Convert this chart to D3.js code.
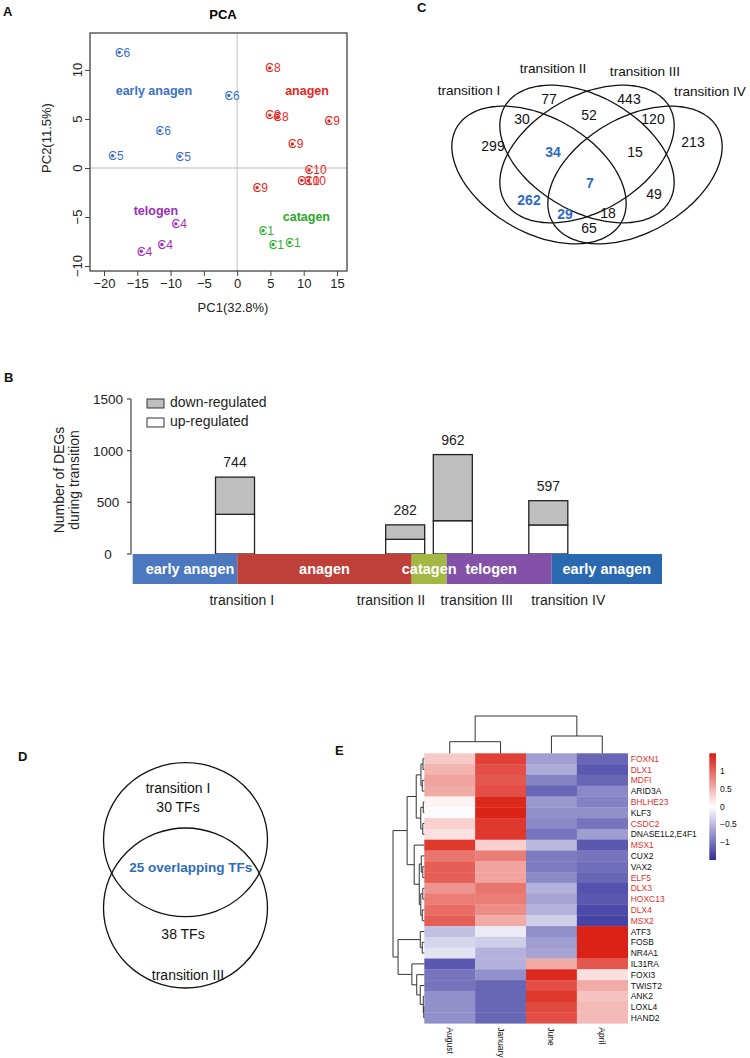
<!DOCTYPE html>
<html><head><meta charset="utf-8">
<script src="https://cdn.jsdelivr.net/npm/d3@7"></script>
<style>body{margin:0;background:#fff}svg{display:block}text{font-family:"Liberation Sans",Arial,sans-serif}</style>
</head><body><svg id="c" width="750" height="1058"></svg>
<script>
// ===================== DATA =====================
// Panel A – PCA
const pcaGroupNames = ["early anagen","anagen","catagen","telogen"];
const pcaSample = ["C6","C6","C6","C5","C5","C8","C8","C8","C9","C9","C10","C10","C10","C9","C1","C1","C1","C4","C4","C4"];
const pcaGroup  = [0,0,0,0,0,1,1,1,1,1,1,1,1,1,2,2,2,3,3,3];
const pcaPC1 = [-17.7,-1.25,-11.6,-18.7,-8.6,4.9,4.9,6.1,13.8,8.3,10.8,9.7,10.7,3.0,3.9,5.4,7.9,-9.2,-11.3,-14.4];
const pcaPC2 = [11.8,7.4,3.8,1.25,1.2,10.2,5.4,5.2,4.8,2.45,-0.2,-1.26,-1.3,-2.0,-6.4,-7.8,-7.6,-5.7,-7.8,-8.5];
const pcaLabelPC1 = [-12.5,10.5,10.4,-12.2];
const pcaLabelPC2 = [7.9,7.9,-4.9,-4.3];
const pcaXTicks = [-20,-15,-10,-5,0,5,10,15];
const pcaYTicks = [-10,-5,0,5,10];

// Panel B – DEG counts
const transitions = ["transition I","transition II","transition III","transition IV"];
const upRegulated   = [384,142,322,281];
const downRegulated = [360,140,640,235];
const totalLabels   = [744,282,962,597];
const transitionTime = [19.33,51.48,60.48,78.52];   // position on the cycle (0-100)
const transitionLabelTime = [20.6,48.8,65.0,82.3];
const stageNames = ["early anagen","anagen","catagen","telogen","early anagen"];
const stageEdges = [0,19.76,52.71,59.32,79.16,100];
const degTicks = [0,500,1000,1500];

// Panel C – 4-set Venn
const vennSetNames = ["transition I","transition II","transition III","transition IV"];
const vennRegions = ["1","2","3","4","12","23","34","123","234","1234","13","24","134","124","14"];
const vennCounts  = [299,77,443,213,30,52,120,34,15,7,262,49,29,18,65];
const vennHighlight = ["123","1234","13","134"];

// Panel D – 2-set Venn
const tfSet1 = "transition I", tfSet2 = "transition III";
const tfOnly1 = 30, tfOnly2 = 38, tfOverlap = 25;

// Panel E – heatmap
const hmCols = ["August","January","June","April"];
const hmRows = ["FOXN1","DLX1","MDFI","ARID3A","BHLHE23","KLF3","CSDC2","DNASE1L2,E4F1","MSX1","CUX2","VAX2","ELF5","DLX3","HOXC13","DLX4","MSX2","ATF3","FOSB","NR4A1","IL31RA","FOXI3","TWIST2","ANK2","LOXL4","HAND2"];
const hmRed = ["FOXN1","DLX1","MDFI","BHLHE23","CSDC2","MSX1","ELF5","DLX3","HOXC13","DLX4","MSX2"];
const hmAugust  = [0.35,0.5,0.6,0.55,0.08,-0.02,0.3,0.2,1.3,0.9,1.05,1.05,0.7,0.85,0.95,1.05,-0.45,-0.3,-0.2,-1.2,-1.0,-1.0,-0.8,-0.8,-0.8];
const hmJanuary = [1.25,1.15,1.1,1.15,1.4,1.45,1.3,1.3,0.3,0.85,0.6,0.6,0.9,0.85,0.75,0.55,-0.15,-0.35,-0.55,-0.55,-0.8,-1.1,-1.1,-1.1,-1.1];
const hmJune    = [-0.7,-0.6,-0.9,-1.1,-0.75,-0.8,-0.85,-1.0,-0.5,-0.95,-0.95,-0.85,-0.55,-0.65,-0.55,-0.35,-0.8,-0.7,-0.65,0.55,1.4,1.15,1.3,1.2,1.15];
const hmApril   = [-1.1,-1.2,-1.1,-0.85,-0.9,-0.8,-1.0,-0.7,-1.2,-1.0,-1.05,-1.1,-1.25,-1.2,-1.3,-1.35,1.45,1.45,1.45,1.1,0.2,0.55,0.4,0.45,0.45];
// dendrograms: [height, left, right], leaves = row/col index
const rowTree = [31,
  [17,
    [8,[3.3,[1.3,0,1],[2,2,3]],[3.5,[1,4,5],[1.5,6,7]]],
    [10,8,[5,[3,9,[1.5,10,11]],[3.5,[1.5,12,13],[2,14,15]]]]],
  [26,
    [4,16,[2,17,18]],
    [12.3,19,[7.5,20,[4,21,[1,22,[0.5,23,24]]]]]]];
const colTree = [37.3,[11.6,0,1],[17.3,2,3]];
const legendTicks = [1,0.5,0,-0.5,-1];

// ===================== DRAW =====================
const svg = d3.select("#c");
svg.append("rect").attr("width",750).attr("height",1058).attr("fill","#fff");
const fmt = d => d<0 ? "\u2212"+Math.abs(d) : String(d);
function letter(t,x,y){svg.append("text").attr("x",x).attr("y",y).attr("font-size",13).attr("font-weight","bold").attr("fill","#111").text(t);}
letter("A",3,16); letter("B",4,382); letter("C",417,12); letter("D",18,761); letter("E",335,755);

// ---------- Panel A ----------
(function(){
  const g = svg.append("g");
  const col = ["#3b70c6","#e8261c","#30b030","#a02cc0"];
  const labCol = ["#3b70c6","#e8261c","#2aa82a","#9b2db8"];
  const xA = d3.scaleLinear().domain([-20,15]).range([104,337]);
  const yA = d3.scaleLinear().domain([-10,10]).range([266,70]);
  const L=90,R=347,T=33,B=271;
  g.append("line").attr("x1",xA(0)).attr("x2",xA(0)).attr("y1",T).attr("y2",B).attr("stroke","#c4c4c4").attr("stroke-width",1);
  g.append("line").attr("x1",L).attr("x2",R).attr("y1",yA(0)).attr("y2",yA(0)).attr("stroke","#d0d0d0").attr("stroke-width",1.5);
  g.append("rect").attr("x",L).attr("y",T).attr("width",R-L).attr("height",B-T).attr("fill","none").attr("stroke","#444").attr("stroke-width",1.3);
  g.append("g").attr("transform",`translate(0,${B})`)
    .call(d3.axisBottom(xA).tickValues(pcaXTicks).tickSize(5).tickPadding(3).tickFormat(fmt))
    .call(s=>s.select(".domain").remove())
    .call(s=>s.selectAll("line").attr("stroke","#444"))
    .call(s=>s.selectAll("text").attr("font-size",13).attr("font-family",'"Liberation Sans",Arial,sans-serif').attr("fill","#222"));
  g.append("g").attr("transform",`translate(${L},0)`)
    .call(d3.axisLeft(yA).tickValues(pcaYTicks).tickSize(5).tickFormat(""))
    .call(s=>s.select(".domain").remove())
    .call(s=>s.selectAll("line").attr("stroke","#444"));
  pcaYTicks.forEach(v=>{
    g.append("text").attr("x",82).attr("y",yA(v)).attr("transform",`rotate(-90,82,${yA(v)})`)
      .attr("text-anchor","middle").attr("font-size",13).attr("fill","#222").text(fmt(v));
  });
  g.append("text").attr("x",223).attr("y",19).attr("text-anchor","middle").attr("font-size",13).attr("font-weight","bold").text("PCA");
  g.append("text").attr("x",233).attr("y",312).attr("text-anchor","middle").attr("font-size",13).attr("fill","#222").text("PC1(32.8%)");
  g.append("text").attr("x",51).attr("y",138).attr("transform","rotate(-90,51,138)").attr("text-anchor","middle").attr("font-size",13).attr("fill","#222").text("PC2(11.5%)");
  pcaSample.forEach((s,i)=>{
    const px=xA(pcaPC1[i]), py=yA(pcaPC2[i]), c=col[pcaGroup[i]];
    g.append("circle").attr("cx",px).attr("cy",py).attr("r",1.7).attr("fill",c);
    g.append("text").attr("x",px-4.4).attr("y",py+4.3).attr("font-size",12).attr("fill",c).text(s);
  });
  pcaGroupNames.forEach((n,i)=>{
    g.append("text").attr("x",xA(pcaLabelPC1[i])).attr("y",yA(pcaLabelPC2[i])+4.5).attr("text-anchor","middle")
      .attr("font-size",12.5).attr("font-weight","bold").attr("fill",labCol[i]).text(n);
  });
})();

// ---------- Panel C ----------
(function(){
  const g = svg.append("g");
  function ellipse(cx,cy,A,B,deg){
    const phi=deg*Math.PI/180, pts=d3.range(0,360,3).map(t=>{
      const a=t*Math.PI/180, u=A*Math.cos(a), v=B*Math.sin(a);
      return [cx+u*Math.cos(phi)-v*Math.sin(phi), cy+u*Math.sin(phi)+v*Math.cos(phi)];});
    g.append("path").attr("d",d3.line().curve(d3.curveCardinalClosed)(pts)).attr("fill","none").attr("stroke","#111").attr("stroke-width",1.3);
  }
  const cx0=587, A=95, B=57.5, ang=30;
  ellipse(cx0-48,175,A,B,ang);
  ellipse(cx0,154,A,B,ang);
  ellipse(cx0,154,A,B,-ang);
  ellipse(cx0+48,175,A,B,-ang);
  const setPos = [[469,90],[553,68],[645,71],[710,91]];
  vennSetNames.forEach((n,i)=>g.append("text").attr("x",setPos[i][0]).attr("y",setPos[i][1]).attr("dy","0.35em").attr("text-anchor","middle").attr("font-size",13.6).attr("fill","#111").text(n));
  const regPos = {"1":[493,146],"2":[549,99],"3":[629,99],"4":[693,142],"12":[522,119],"23":[589,115],"34":[653,119],
    "123":[553,152],"234":[635,152],"1234":[590,183],"13":[529,200],"24":[654,194],"134":[565,214],"124":[608,213],"14":[589,228]};
  vennRegions.forEach((r,i)=>{
    const hl = vennHighlight.includes(r);
    g.append("text").attr("x",regPos[r][0]).attr("y",regPos[r][1]).attr("dy","0.36em").attr("text-anchor","middle")
      .attr("font-size",14).attr("font-weight",hl?"bold":"normal").attr("fill",hl?"#2f6cc0":"#111").text(vennCounts[i]);
  });
})();

// ---------- Panel B ----------
(function(){
  const g = svg.append("g");
  const xB = d3.scaleLinear().domain([0,100]).range([132.7,662]);
  const yB = d3.scaleLinear().domain([0,1500]).range([554,399]);
  const stageCol = ["#4b78bf","#bf3f39","#a2b843","#8352a8","#2a68b0"];
  g.append("line").attr("x1",131).attr("x2",131).attr("y1",yB(1500)).attr("y2",yB(0)).attr("stroke","#444").attr("stroke-width",1.2);
  degTicks.forEach(v=>{
    g.append("line").attr("x1",127).attr("x2",131).attr("y1",yB(v)).attr("y2",yB(v)).attr("stroke","#444").attr("stroke-width",1.2);
    g.append("text").attr("x",108).attr("y",yB(v)+5).attr("text-anchor","middle").attr("font-size",13.5).attr("fill","#222").text(v);
  });
  g.append("text").attr("transform","translate(64,480) rotate(-90)").attr("text-anchor","middle").attr("font-size",14).attr("fill","#222").text("Number of DEGs");
  g.append("text").attr("transform","translate(79,480) rotate(-90)").attr("text-anchor","middle").attr("font-size",14).attr("fill","#222").text("during transition");
  // legend
  [["down-regulated","#bfbfbf",399],["up-regulated","#ffffff",418]].forEach(d=>{
    g.append("rect").attr("x",147).attr("y",d[2]).attr("width",17).attr("height",9).attr("fill",d[1]).attr("stroke","#333").attr("stroke-width",1);
    g.append("text").attr("x",170).attr("y",d[2]+8).attr("font-size",14).attr("fill","#222").text(d[0]);
  });
  const bw = xB(7.37)-xB(0);
  transitions.forEach((t,i)=>{
    const x = xB(transitionTime[i])-bw/2;
    const up = upRegulated[i], dn = downRegulated[i];
    g.append("rect").attr("x",x).attr("y",yB(up)).attr("width",bw).attr("height",yB(0)-yB(up)).attr("fill","#fff").attr("stroke","#222").attr("stroke-width",1.3);
    g.append("rect").attr("x",x).attr("y",yB(up+dn)).attr("width",bw).attr("height",yB(up)-yB(up+dn)).attr("fill","#bfbfbf").attr("stroke","#222").attr("stroke-width",1.3);
    g.append("text").attr("x",xB(transitionTime[i])).attr("y",yB(up+dn)-10).attr("text-anchor","middle").attr("font-size",14).attr("fill","#222").text(totalLabels[i]);
    g.append("text").attr("x",xB(transitionLabelTime[i])).attr("y",605).attr("text-anchor","middle").attr("font-size",14).attr("fill","#222").text(t);
  });
  stageNames.forEach((s,i)=>{
    g.append("rect").attr("x",xB(stageEdges[i])).attr("y",554).attr("width",xB(stageEdges[i+1])-xB(stageEdges[i])).attr("height",30).attr("fill",stageCol[i]);
  });
  stageNames.forEach((s,i)=>{
    let cx=(xB(stageEdges[i])+xB(stageEdges[i+1]))/2;
    if(s==="telogen") cx-=8;
    if(i===0) cx+=5;
    g.append("text").attr("x",cx).attr("y",574).attr("text-anchor","middle").attr("font-size",14.5).attr("font-weight","bold").attr("fill","#fff").text(s);
  });
})();

// ---------- Panel D ----------
(function(){
  const g = svg.append("g");
  g.append("ellipse").attr("cx",185.5).attr("cy",839.7).attr("rx",82).attr("ry",77).attr("fill","none").attr("stroke","#111").attr("stroke-width",1.3);
  g.append("ellipse").attr("cx",185.5).attr("cy",908).attr("rx",82).attr("ry",80).attr("fill","none").attr("stroke","#111").attr("stroke-width",1.3);
  const t=(x,y,s,o)=>g.append("text").attr("x",x).attr("y",y).attr("text-anchor","middle").attr("font-size",(o&&o.size)||14).attr("font-weight",(o&&o.bold)?"bold":"normal").attr("fill",(o&&o.fill)||"#111").text(s);
  t(178,793,tfSet1);
  t(178,812,tfOnly1+" TFs");
  t(190.7,872,tfOverlap+" overlapping TFs",{bold:true,size:13.5,fill:"#2f6cc0"});
  t(183,939,tfOnly2+" TFs");
  t(188,980,tfSet2);
})();

// ---------- Panel E ----------
(function(){
  const g = svg.append("g");
  const L=424.3,R=627.7,T=753.3,B=1023.3;
  const x = d3.scaleBand().domain(hmCols).range([L,R]);
  const y = d3.scaleBand().domain(hmRows).range([T,B]);
  const color = d3.scaleLinear().domain([-1.5,0,1.5]).range(["#332e9c","#ffffff","#da1a0e"]);
  const cols=[hmAugust,hmJanuary,hmJune,hmApril];
  hmRows.forEach((r,i)=>hmCols.forEach((c,j)=>{
    g.append("rect").attr("x",x(c)).attr("y",y(r)).attr("width",x.bandwidth()+0.3).attr("height",y.bandwidth()+0.3).attr("fill",color(cols[j][i]));
  }));
  hmRows.forEach(r=>g.append("text").attr("x",R+3).attr("y",y(r)+y.bandwidth()/2+3).attr("font-size",8.5).attr("fill",hmRed.includes(r)?"#e4302a":"#111").text(r));
  hmCols.forEach(c=>{const cx=x(c)+x.bandwidth()/2-3;
    g.append("text").attr("x",cx).attr("y",B+4).attr("transform",`rotate(90,${cx},${B+4})`).attr("font-size",8.5).attr("fill","#111").text(c);});
  // row dendrogram
  const hx = d3.scaleLinear().domain([0,31]).range([L,393]);
  function drawRow(n){
    if(typeof n==="number") return {p:y(hmRows[n])+y.bandwidth()/2,h:0};
    const a=drawRow(n[1]), b=drawRow(n[2]), X=hx(n[0]);
    g.append("path").attr("d",`M${hx(a.h)},${a.p}H${X}V${b.p}H${hx(b.h)}`).attr("fill","none").attr("stroke","#333").attr("stroke-width",1);
    return {p:(a.p+b.p)/2,h:n[0]};
  }
  drawRow(rowTree);
  const vy = d3.scaleLinear().domain([0,37.3]).range([T,716]);
  function drawCol(n){
    if(typeof n==="number") return {p:x(hmCols[n])+x.bandwidth()/2,h:0};
    const a=drawCol(n[1]), b=drawCol(n[2]), Y=vy(n[0]);
    g.append("path").attr("d",`M${a.p},${vy(a.h)}V${Y}H${b.p}V${vy(b.h)}`).attr("fill","none").attr("stroke","#333").attr("stroke-width",1);
    return {p:(a.p+b.p)/2,h:n[0]};
  }
  drawCol(colTree);
  // legend
  const ly = d3.scaleLinear().domain([-1.5,1.5]).range([860,753.3]);
  const grad = svg.append("defs").append("linearGradient").attr("id","lg").attr("x1",0).attr("x2",0).attr("y1",1).attr("y2",0);
  [-1.5,0,1.5].forEach(v=>grad.append("stop").attr("offset",(v+1.5)/3).attr("stop-color",color(v)));
  g.append("rect").attr("x",709.3).attr("y",ly(1.5)).attr("width",6.7).attr("height",ly(-1.5)-ly(1.5)).attr("fill","url(#lg)");
  legendTicks.forEach(v=>g.append("text").attr("x",720).attr("y",ly(v)+3).attr("font-size",8.5).attr("fill","#111").text(fmt(v)));
})();
</script></body></html>
